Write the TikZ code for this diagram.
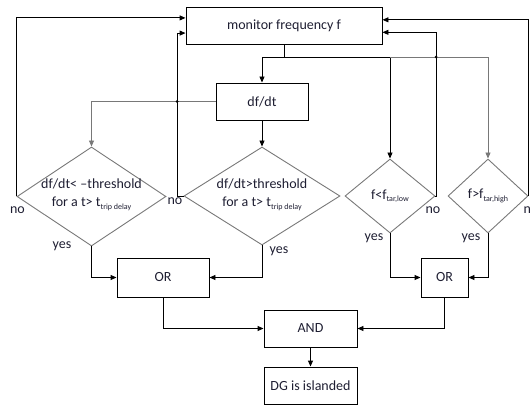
\documentclass[tikz,border=0pt]{standalone}
\usepackage{fontspec}
\setmainfont{Carlito}
\usetikzlibrary{arrows.meta,shapes.geometric,calc}
\definecolor{ink}{RGB}{30,30,50}
\definecolor{lightline}{RGB}{120,120,120}
\newcommand{\sub}[1]{\raisebox{-2.5pt}{\fontsize{8}{8}\selectfont #1}}
\begin{document}
\begin{tikzpicture}[x=1pt,y=-1pt,
  every node/.style={text=ink,font=\fontsize{14}{18}\selectfont},
  box/.style={draw=black,line width=0.9pt,inner sep=0pt,minimum height=37pt},
  decision/.style={diamond,draw=lightline,line width=0.9pt,inner sep=0pt,text=ink},
  lbl/.style={inner sep=0pt,align=center},
  link/.style={draw=black,line width=0.9pt},
  glink/.style={draw=lightline,line width=0.9pt},
  arr/.style={-{Triangle[length=6pt,width=5pt]}},
  junction/.style={circle,fill=black,inner sep=0pt,minimum size=3pt}]
\useasboundingbox (0,0) rectangle (530,406);

% process boxes
\node[box,minimum width=196pt] (mon) at (284,25.5) {monitor frequency f};
\node[box,minimum width=92pt] (dfdt) at (262,101.5) {df/dt};
\node[box,minimum width=92pt,minimum height=39pt] (or1) at (163,277.5) {OR};
\node[box,minimum width=47pt,minimum height=39pt] (or2) at (444.5,277.5) {OR};
\node[box,minimum width=93pt] (and) at (310.5,328.5) {AND};
\node[box,minimum width=93pt] (dg) at (310.5,385.5) {DG is islanded};

% decisions
\node[decision,minimum width=149pt,minimum height=99pt] (d1) at (91.5,196.5) {};
\node[decision,minimum width=156pt,minimum height=98pt] (d2) at (262,196) {};
\node[decision,minimum width=90pt,minimum height=74pt] (d3) at (390,196) {};
\node[decision,minimum width=80pt,minimum height=74pt] (d4) at (488,196) {};
\node[lbl] (d1t) at (91.5,195) {df/dt{\textless} --threshold\\for a t{\textgreater} t\sub{trip delay}};
\node[lbl] (d2t) at (262,195) {df/dt{\textgreater}threshold\\for a t{\textgreater} t\sub{trip delay}};
\node[lbl] (d3t) at (390,196) {f{\textless}f\sub{tar,low}};
\node[lbl] (d4t) at (488,196) {f{\textgreater}f\sub{tar,high}};

% branch labels
\node[lbl] (no1) at (17.5,210) {no};
\node[lbl] (no2) at (175,201) {no};
\node[lbl] (no3) at (433,210) {no};
\node[lbl] (no4) at (531,210) {no};
\node[lbl] (yes1) at (62,246) {yes};
\node[lbl] (yes2) at (279,251) {yes};
\node[lbl] (yes3) at (374,238) {yes};
\node[lbl] (yes4) at (471,238) {yes};

% feed from the monitor to the checks
\coordinate (split) at (284,57);
\draw[link] (mon.south) -- (split);
\draw[link,arr] (split) -| (dfdt.north);
\draw[link,arr] (split) -| (d3.north);
\draw[glink,arr] (d3.north |- split) -| (d4.north);
\draw[glink,arr] (dfdt.west) -| (d1.north);
\draw[link,arr] (dfdt.south) -- (d2.north);

% "no" branches back to the monitor
\draw[link,arr] (d1.west) |- ($(mon.north west)!0.3!(mon.south west)$);
\coordinate (back2) at (177,196);
\draw[link,arr] (d2.west) -- (back2) |- ($(mon.north west)!0.7!(mon.south west)$);
\coordinate (back3) at (436,196);
\draw[link,arr] (d3.east) -- (back3) |- ($(mon.north east)!0.68!(mon.south east)$);
\draw[link,arr] (d4.east) |- ($(mon.north east)!0.35!(mon.south east)$);
\node[junction] (j1) at (177,101.5) {};
\node[junction] (j2) at (436,57) {};

% "yes" branches into the OR gates
\draw[link,arr] (d1.south) |- (or1.west);
\draw[link,arr] (d2.south) |- (or1.east);
\draw[link,arr] (d3.south) |- (or2.west);
\draw[link,arr] (d4.south) |- (or2.east);

% combine
\draw[link,arr] (or1.south) |- (and.west);
\draw[link,arr] (or2.south) |- (and.east);
\draw[link,arr] (and.south) -- (dg.north);
\end{tikzpicture}
\end{document}
